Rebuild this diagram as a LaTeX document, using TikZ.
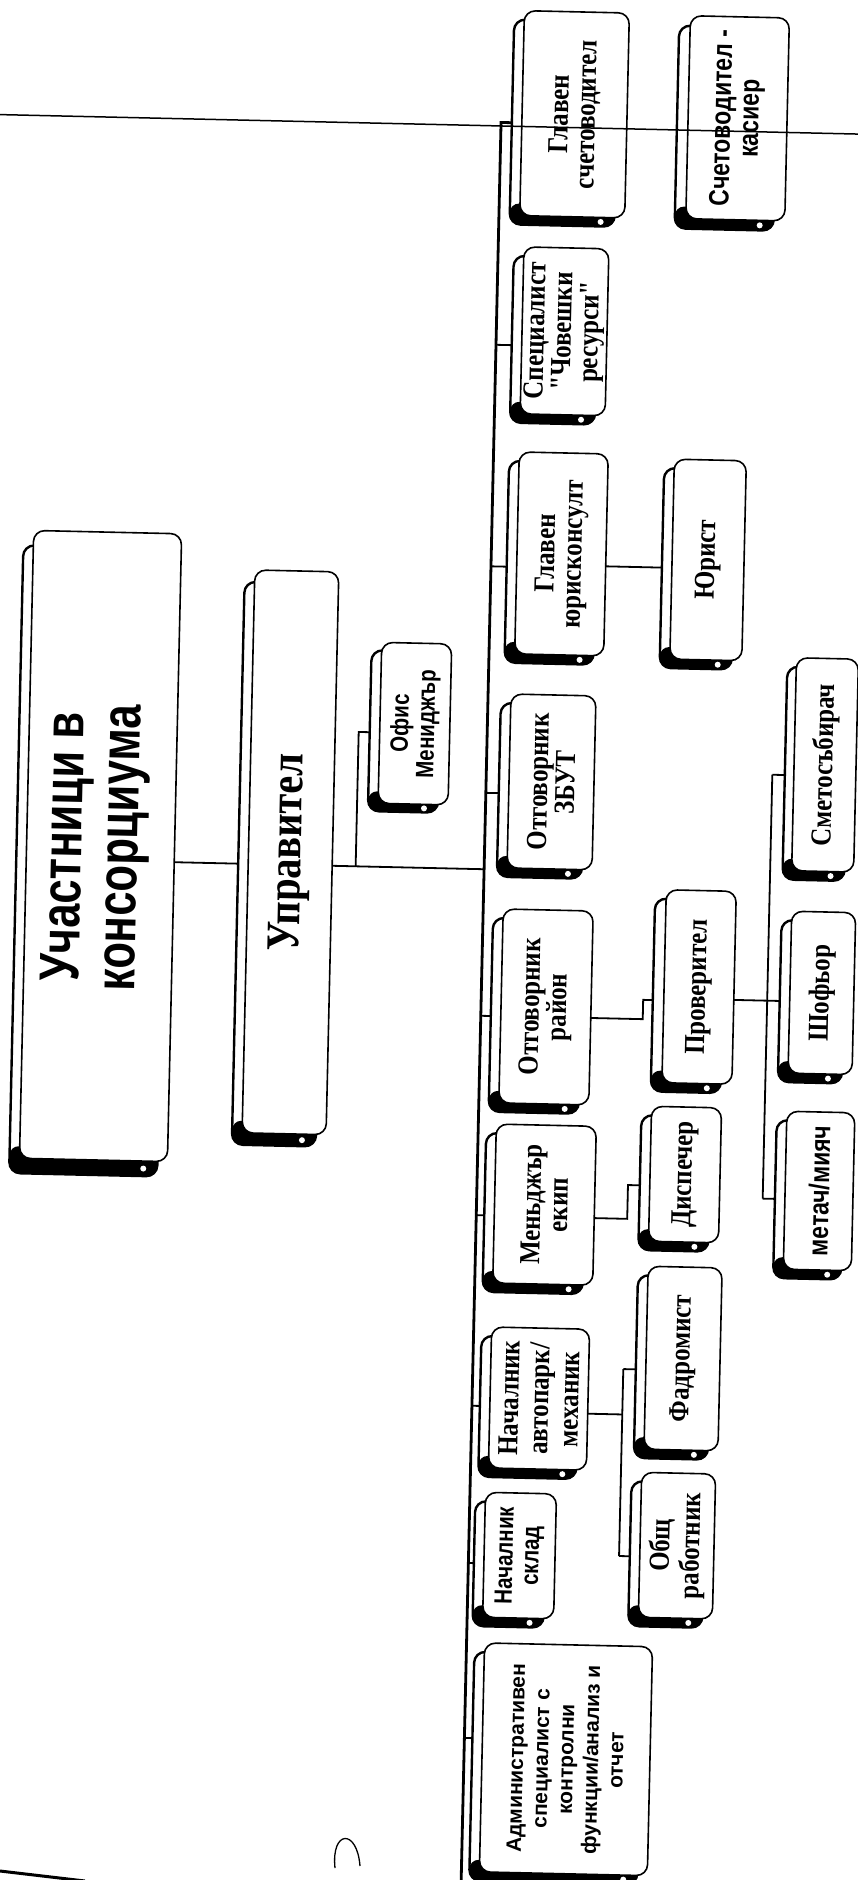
\documentclass[tikz,border=0pt]{standalone}
\usepackage{fontspec}
\setmainfont{Liberation Serif}
\newfontfamily\serifn[FakeStretch=0.86]{Liberation Serif}
\newfontfamily\sansf{Liberation Sans}
\newfontfamily\narrowf[FakeStretch=0.82]{Liberation Sans}
\newfontfamily\titlef[FakeStretch=0.78]{Liberation Sans}
\pgfdeclarelayer{back}
\pgfdeclarelayer{links}
\pgfsetlayers{back,links,main}
\newcommand\obox[9]{%
  \path[shad] (#2-#4/2-#6,-#3-#5/2-#7) rectangle (#2+#4/2-#6,-#3+#5/2-#7);
  \fill[rounded corners=9pt] (#2-#4/2-#6,-#3-#5/2-#7) rectangle (#2+#4/2-#6,-#3-#5/2+12);
  \fill[white] (#2+#4/2-#6-14,-#3-#5/2-#7/2) circle (3);
  \node[orgbox, minimum width=#4pt, minimum height=#5pt] (#1) at (#2,-#3) {};
  \node[lbl,#8] (#1t) at (#1.center) {#9};
}
\begin{document}
\begin{tikzpicture}[x=1pt,y=1pt,
  orgbox/.style={draw, line width=1.6pt, fill=white, rounded corners=11pt, inner sep=0pt, outer sep=0pt},
  shad/.style={draw, line width=2.4pt, fill=white, rounded corners=11pt},
  lbl/.style={rotate=90, align=center, inner sep=0pt},
  conn/.style={line width=1.8pt},
  trunkline/.style={line width=2.8pt},
  scanline/.style={line width=1.5pt},
  sb/.style={font=\serifn\bfseries\fontsize{29pt}{27pt}\selectfont},
  sbt/.style={font=\serifn\bfseries\fontsize{29pt}{30pt}\selectfont},
  nb/.style={font=\narrowf\bfseries\fontsize{28pt}{28pt}\selectfont},
  nbs/.style={font=\narrowf\bfseries\fontsize{25pt}{26pt}\selectfont},
  sa/.style={font=\sansf\bfseries\fontsize{21pt}{25pt}\selectfont},
  ttl/.style={font=\titlef\bfseries\fontsize{56pt}{56pt}\selectfont},
  mgr/.style={font=\serifn\bfseries\fontsize{47pt}{48pt}\selectfont}]
\useasboundingbox (0,0) rectangle (858,-1880);
\begin{pgfonlayer}{back}
\fill[white] (0,0) rectangle (858,-1880);
\end{pgfonlayer}
\begin{scope}[rotate around={-1.3:(429,-940)}, transform shape]
  % boxes
  \obox{part}{98.5}{853.5}{148}{628}{10}{15}{}{}
  \node[lbl,ttl] (partt2) at (94,-855) {Участници в\\консорциума};
  \obox{upr}{288.5}{855.5}{84}{563}{10}{12}{mgr}{Управител}
  \obox{ofis}{410}{724}{70}{161}{10}{8}{nbs}{Офис\\Мениджър}
  \obox{glsch}{555.8}{111.2}{105}{205}{10}{9}{sb}{Главен\\счетоводител}
  \obox{kas}{718.9}{111.5}{99}{203}{11}{10}{nb}{Счетоводител -\\касиер}
  \obox{spec}{550.7}{328.4}{85}{167}{10}{9}{sb}{Специалист\\\symbol{34}Човешки\\ресурси\symbol{34}}
  \obox{jur}{552.7}{551}{89}{202}{10}{9}{sb}{Главен\\юрисконсулт}
  \obox{yur}{699.4}{553.7}{72}{200}{10}{9}{sb}{Юрист}
  \obox{zbut}{547.9}{779.2}{85}{174}{10}{9}{sb}{Отговорник\\ЗБУТ}
  \obox{rayon}{547.5}{1004.3}{90}{194}{10}{9}{sb}{Отговорник\\район}
  \obox{prov}{700.1}{980.9}{70}{193}{11}{9}{sb}{Проверител}
  \obox{smet}{821}{756}{62}{213}{9}{9}{sb}{Сметосъбирач}
  \obox{shof}{823}{984}{64}{162}{10}{9}{sb}{Шофьор}
  \obox{metach}{824.7}{1182.1}{68}{158}{10}{9}{nb}{метач/мияч}
  \obox{menj}{550.5}{1202}{100}{159}{10}{9}{sb}{Меньджър\\екип}
  \obox{disp}{690.3}{1168.7}{70}{135}{10}{9}{sb}{Диспечер}
  \obox{avto}{549.4}{1396}{98}{141}{10}{9}{sbt}{Началник\\автопарк/\\механик}
  \obox{fadr}{692.5}{1352.7}{74}{183}{10}{9}{sb}{Фадромист}
  \obox{obsh}{690.7}{1539.9}{74}{145}{10}{9}{sbt}{Общ\\работник}
  \obox{sklad}{533.5}{1553.4}{71}{125}{10}{9}{nbs}{Началник\\склад}
  \obox{admin}{584.5}{1756}{168}{229}{10}{9}{sa}{Административен\\специалист с\\контролни\\функции/анализ и\\отчет}
  % coordinates
  \coordinate (trunktop) at (482.5,-121);
  \coordinate (trunkbot) at (482.5,-1900);
  \coordinate (tu) at (482.5,-868);
  \coordinate (j1) at (354,-868);
  \coordinate (jo) at (354,-733.6);
  \coordinate (tspec) at (482.5,-343.4);
  \coordinate (tjur) at (482.5,-565);
  \coordinate (tzbut) at (482.5,-791.6);
  \coordinate (trayon) at (482.5,-1014.6);
  \coordinate (tmenj) at (482.5,-1214);
  \coordinate (tavto) at (482.5,-1404.7);
  \coordinate (tsklad) at (482.5,-1562);
  \coordinate (tadmin) at (482.5,-1737);
  \coordinate (jy) at (630,-562.4);
  \coordinate (rp1) at (644.5,-1014.3);
  \coordinate (rp2) at (644.5,-995);
  \coordinate (b1t) at (768.5,-767);
  \coordinate (b1m) at (768.5,-993);
  \coordinate (b1b) at (768.5,-1191);
  \coordinate (md1) at (633.5,-1214.3);
  \coordinate (md2) at (633.5,-1180.5);
  \coordinate (b2t) at (633,-1364.6);
  \coordinate (b2m) at (633,-1410);
  \coordinate (b2b) at (633,-1551.6);
  \coordinate (sl) at (-40,-124.5);
  \coordinate (sr) at (900,-124.5);
  \begin{pgfonlayer}{links}
    \draw[trunkline] (trunkbot) -- (trunktop) -- (trunktop -| glsch.west);
    \draw[conn] (part.east |- tu) -- (tu);
    \draw[conn] (j1) -- (jo) -- (jo -| ofis.west);
    \draw[conn] (tspec) -- (tspec -| spec.west);
    \draw[conn] (tjur) -- (tjur -| jur.west);
    \draw[conn] (tzbut) -- (tzbut -| zbut.west);
    \draw[conn] (trayon) -- (trayon -| rayon.west);
    \draw[conn] (tmenj) -- (tmenj -| menj.west);
    \draw[conn] (tavto) -- (tavto -| avto.west);
    \draw[conn] (tsklad) -- (tsklad -| sklad.west);
    \draw[conn] (tadmin) -- (tadmin -| admin.west);
    \draw[conn] (jy -| jur.east) -- (jy -| yur.west);
    \draw[conn] (rp1 -| rayon.east) -- (rp1) -- (rp2) -- (rp2 -| prov.west);
    \draw[conn] (b1t) -- (b1b);
    \draw[conn] (b1t) -- (b1t -| smet.west);
    \draw[conn] (b1m -| prov.east) -- (b1m -| shof.west);
    \draw[conn] (b1b) -- (b1b -| metach.west);
    \draw[conn] (md1 -| menj.east) -- (md1) -- (md2) -- (md2 -| disp.west);
    \draw[conn] (b2t) -- (b2b);
    \draw[conn] (b2t) -- (b2t -| fadr.west);
    \draw[conn] (b2b) -- (b2b -| obsh.west);
    \draw[conn] (b2m -| avto.east) -- (b2m);
  \end{pgfonlayer}
  \draw[scanline] (sl) -- (sr);
\end{scope}
% scan marks
\coordinate (c1) at (335,-1868);
\coordinate (c2) at (360,-1866);
\draw[line width=1.3pt] (c1) .. controls (331,-1830) and (357,-1828) .. (c2);
\coordinate (l1) at (0,-1871);
\coordinate (l2) at (85,-1881);
\draw[line width=3pt] (l1) -- (l2);
\end{tikzpicture}
\end{document}
